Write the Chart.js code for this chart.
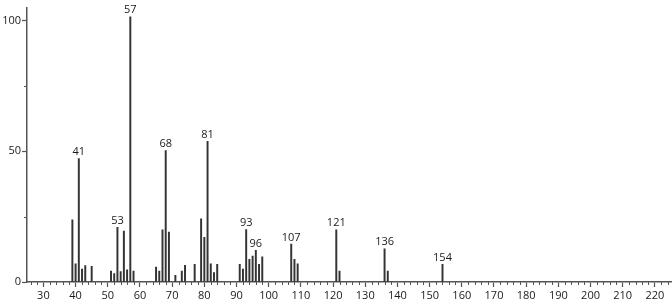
<!DOCTYPE html>
<html>
<head>
<meta charset="utf-8">
<script src="https://cdn.jsdelivr.net/npm/chart.js@4"></script>
<style>
  html, body { margin: 0; padding: 0; background: #fff; }
  #wrap { width: 672px; height: 304px; position: relative; }
</style>
</head>
<body>
<div id="wrap"><canvas id="c" width="672" height="304"></canvas></div>
<script>
// m/z values of the peaks
const mz = [39, 40, 41, 42, 43, 45, 51, 52, 53, 54, 55, 56, 57, 58,
            65, 66, 67, 68, 69, 71, 73, 74, 77, 79, 80, 81, 82, 83, 84,
            91, 92, 93, 94, 95, 96, 97, 98, 107, 108, 109, 121, 122,
            136, 137, 154];
// relative intensities
const intensity = [23.8, 7.0, 47.2, 4.9, 6.3, 6.0, 4.2, 3.2, 20.9, 4.0, 19.5, 4.7, 101.5, 4.2,
                   5.7, 4.2, 20.0, 50.3, 19.1, 2.6, 4.2, 6.4, 6.8, 24.2, 17.1, 53.8, 7.0, 3.6, 6.8,
                   6.8, 4.9, 20.1, 8.7, 9.9, 12.1, 6.8, 9.6, 14.5, 8.7, 7.0, 20.0, 4.2,
                   12.7, 4.2, 6.8];
// peaks that carry a text label
const labeledPeaks = [41, 53, 57, 68, 81, 93, 96, 107, 121, 136, 154];
// axis tick labels
const xTickLabels = [30, 40, 50, 60, 70, 80, 90, 100, 110, 120, 130, 140, 150, 160, 170, 180, 190, 200, 210, 220];
const yTickLabels = [0, 50, 100];
const yMinorTicks = [25, 75];

const FONT = "'Open Sans', 'DejaVu Sans', sans-serif";
const AXIS_COLOR = '#555';
const TEXT_COLOR = '#1a1a1a';

const points = mz.map((m, i) => ({ x: m, y: intensity[i] }));

const extras = {
  id: 'extras',
  afterDraw(chart) {
    const ctx = chart.ctx;
    const xs = chart.scales.x, ys = chart.scales.y;
    const area = chart.chartArea;
    ctx.save();
    ctx.strokeStyle = AXIS_COLOR;
    ctx.lineWidth = 1;
    // minor x ticks every 2 units
    for (let v = Math.ceil(xs.min / 2) * 2; v <= xs.max; v += 2) {
      if (v % 10 === 0) continue;
      const px = Math.round(xs.getPixelForValue(v)) + 0.5;
      ctx.beginPath();
      ctx.moveTo(px, area.bottom);
      ctx.lineTo(px, area.bottom + 3);
      ctx.stroke();
    }
    // minor y ticks
    yMinorTicks.forEach(v => {
      const py = Math.round(ys.getPixelForValue(v)) + 0.5;
      ctx.beginPath();
      ctx.moveTo(area.left - 3, py);
      ctx.lineTo(area.left, py);
      ctx.stroke();
    });
    // peak labels
    const meta = chart.getDatasetMeta(0);
    ctx.fillStyle = TEXT_COLOR;
    ctx.font = '11px ' + FONT;
    ctx.textAlign = 'center';
    ctx.textBaseline = 'bottom';
    labeledPeaks.forEach(p => {
      const i = mz.indexOf(p);
      const el = meta.data[i];
      ctx.fillText(String(p), el.x, el.y - 1);
    });
    ctx.restore();
  }
};

new Chart(document.getElementById('c'), {
  type: 'bar',
  data: {
    datasets: [{
      data: points,
      backgroundColor: '#333',
      borderWidth: 0,
      barThickness: 1.3,
      grouped: false
    }]
  },
  options: {
    responsive: false,
    animation: false,
    events: [],
    layout: { padding: { top: 7, right: 1, left: 0, bottom: 0 } },
    plugins: { legend: { display: false }, tooltip: { enabled: false } },
    scales: {
      x: {
        type: 'linear',
        offset: false,
        min: 24.9,
        max: 225,
        afterFit(scale) { scale.height = 22; },
        border: { display: true, color: AXIS_COLOR, width: 1.5 },
        grid: {
          display: true,
          offset: false,
          drawOnChartArea: false,
          drawTicks: true,
          tickLength: 5,
          tickWidth: 1.2,
          tickColor: (c) => (c.tick && xTickLabels.includes(c.tick.value)) ? AXIS_COLOR : 'rgba(0,0,0,0)'
        },
        ticks: {
          stepSize: 2,
          includeBounds: false,
          autoSkip: false,
          maxRotation: 0,
          padding: 2,
          color: TEXT_COLOR,
          font: { family: FONT, size: 11 },
          callback: (v) => xTickLabels.includes(v) ? String(v) : ''
        }
      },
      y: {
        type: 'linear',
        min: 0,
        max: 105,
        afterFit(scale) { scale.width = 27; },
        border: { display: true, color: AXIS_COLOR, width: 1.5 },
        grid: {
          display: true,
          drawOnChartArea: false,
          drawTicks: true,
          tickLength: 5,
          tickWidth: 1.2,
          tickColor: (c) => (c.tick && yTickLabels.includes(c.tick.value)) ? AXIS_COLOR : 'rgba(0,0,0,0)'
        },
        ticks: {
          stepSize: 25,
          includeBounds: false,
          autoSkip: false,
          padding: 1,
          color: TEXT_COLOR,
          font: { family: FONT, size: 11 },
          callback: (v) => yTickLabels.includes(v) ? String(v) : ''
        }
      }
    }
  },
  plugins: [extras]
});
</script>
</body>
</html>
